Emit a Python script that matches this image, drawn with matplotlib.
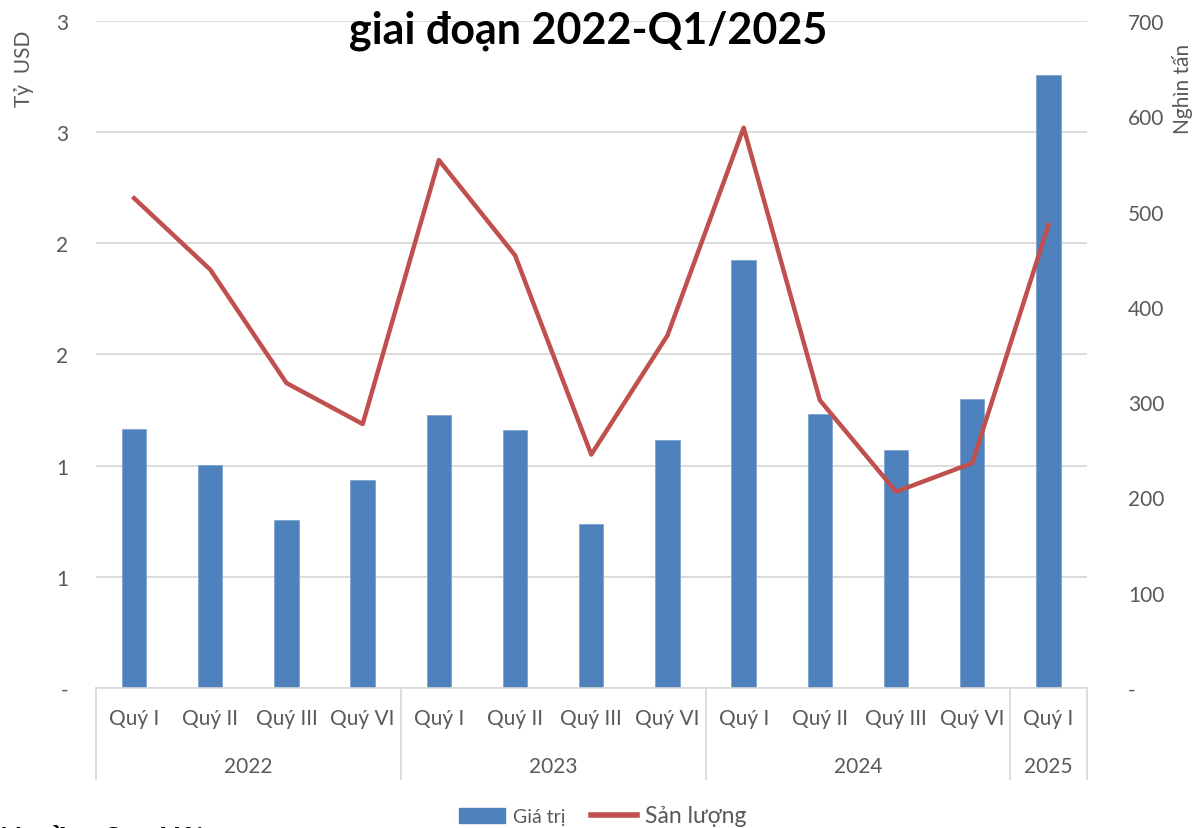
import matplotlib
matplotlib.use("Agg")
import matplotlib.pyplot as plt
from matplotlib.patches import Patch
from matplotlib.lines import Line2D
import numpy as np

plt.rcParams.update({
    "font.family": ["Lato", "DejaVu Sans"],
    "font.size": 15,
    "axes.linewidth": 1.2,
})

BAR_C = "#4F81BD"
LINE_C = "#C0504D"
GRID_C = "#D9D9D9"
TXT_C = "#595959"

quarters = ["Quý I", "Quý II", "Quý III", "Quý VI"] * 3 + ["Quý I"]
years = ["2022", "2023", "2024", "2025"]
year_counts = [4, 4, 4, 1]
gia_tri = [1.165, 1.003, 0.756, 0.936, 1.228, 1.161, 0.738, 1.116,
           1.925, 1.233, 1.071, 1.300, 2.758]          # tỷ USD
san_luong = [514, 439, 320, 277, 554, 454, 245, 370,
             588, 302, 206, 236, 486]                  # nghìn tấn
left_ticks = [0, 0.5, 1.0, 1.5, 2.0, 2.5, 3.0]
left_labels = ["-", "1", "1", "2", "2", "3", "3"]
right_ticks = [0, 100, 200, 300, 400, 500, 600, 700]
right_labels = ["-", "100", "200", "300", "400", "500", "600", "700"]

fig = plt.figure(figsize=(11.94, 8.29), dpi=100)
ax = fig.add_axes([0.0804, 0.1689, 0.8296, 0.8046])
x = np.arange(len(quarters))

ax.bar(x, gia_tri, 0.32, color=BAR_C, edgecolor="#7FA3D1", linewidth=0.6, zorder=2)
ax.set_ylim(0, 3.0)
ax.set_xlim(-0.5, len(quarters) - 0.5)
ax.set_yticks(left_ticks)
ax.set_yticklabels(left_labels)
ax.yaxis.grid(True, color=GRID_C, linewidth=1.3, zorder=0)
ax.set_axisbelow(True)
for s in ["top", "right", "left"]:
    ax.spines[s].set_visible(False)
ax.spines["bottom"].set_color(GRID_C)
ax.tick_params(axis="y", length=0, pad=20, colors=TXT_C, labelsize=15)
ax.tick_params(axis="x", length=0, colors=TXT_C)
ax.set_xticks([])
ax.set_ylabel("Tỷ  USD", color=TXT_C, fontsize=15, labelpad=8)
ax.yaxis.set_label_coords(-0.063, 0.93)

ax2 = ax.twinx()
ax2.plot(x, san_luong, color=LINE_C, lw=3.2, solid_joinstyle="round", zorder=3)
ax2.set_ylim(0, 700)
ax2.set_yticks(right_ticks)
ax2.set_yticklabels(right_labels)
for s in ["top", "right", "left", "bottom"]:
    ax2.spines[s].set_visible(False)
ax2.tick_params(axis="y", length=0, pad=30, colors=TXT_C, labelsize=15)
ax2.set_ylabel("Nghìn tấn", color=TXT_C, fontsize=15)
ax2.yaxis.set_label_coords(1.086, 0.9)

# two-level category axis
tr = ax.get_xaxis_transform()
for xi, q in zip(x, quarters):
    ax.text(xi, -0.045, q, transform=tr, ha="center", va="center",
            color=TXT_C, fontsize=15)
edges = np.concatenate([[0], np.cumsum(year_counts)]) - 0.5
for i, yr in enumerate(years):
    ax.text((edges[i] + edges[i + 1]) / 2, -0.117, yr, transform=tr,
            ha="center", va="center", color=TXT_C, fontsize=15)
for e in edges:
    ax.plot([e, e], [0, -0.137], transform=tr, color=GRID_C, lw=1.3,
            clip_on=False)

fig.text(0.4925, 0.963, "giai đoạn 2022-Q1/2025", ha="center", va="center",
         fontsize=31, fontweight="bold", color="black")

handles = [Patch(color=BAR_C), Line2D([], [], color=LINE_C, lw=4)]
leg = fig.legend(handles, ["Giá trị", "Sản lượng"], loc="center",
                 bbox_to_anchor=(0.505, 1 - 817 / 829), ncol=2, frameon=False,
                 handlelength=2.2, handletextpad=0.4, columnspacing=1.2)
for t, fs in zip(leg.get_texts(), [14, 16.5]):
    t.set_color(TXT_C)
    t.set_fontsize(fs)

# source note, mostly below the picture's lower edge as in the original
fig.text(0.0, 1 - 848 / 829, "Nguồn: Cục Hải quan", ha="left", va="baseline",
         fontsize=21, fontweight="bold", color="black")

fig.savefig("out.png", dpi=100)
